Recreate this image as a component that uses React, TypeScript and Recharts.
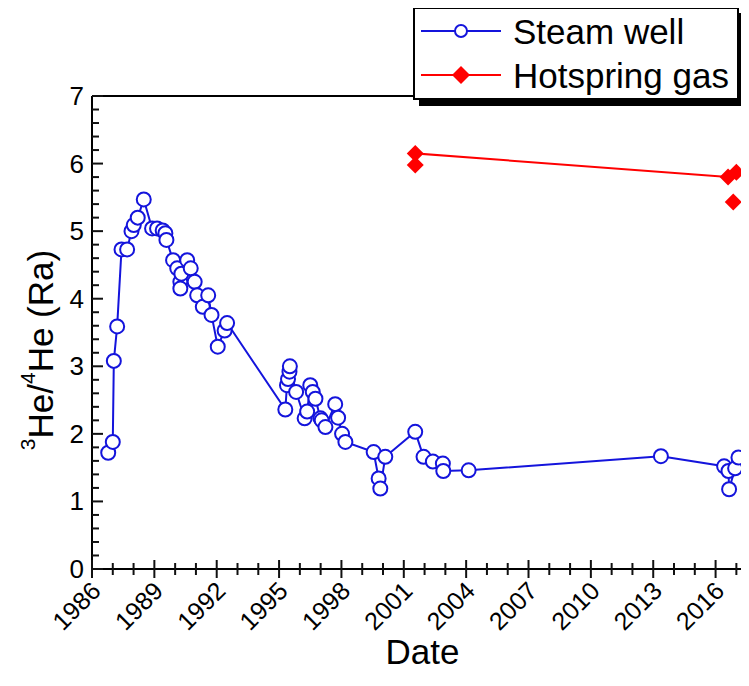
import React from "react"
import { Legend, Scatter, ScatterChart, XAxis, YAxis } from "recharts"

// Steam well samples (decimal year, 3He/4He in Ra)
const steamT = [
  1986.78, 1987.0, 1987.05, 1987.21, 1987.42, 1987.69, 1987.9, 1988.01, 1988.2, 1988.49,
  1988.89, 1989.13, 1989.4, 1989.53, 1989.58, 1989.9, 1990.1, 1990.25, 1990.25, 1990.3,
  1990.58, 1990.75, 1990.94, 1991.06, 1991.33, 1991.59, 1991.75, 1992.05, 1992.38, 1992.5,
  1995.3, 1995.38, 1995.43, 1995.5, 1995.52, 1995.82, 1996.23, 1996.35, 1996.5, 1996.62,
  1996.75, 1996.99, 1997.05, 1997.23, 1997.7, 1997.84, 1998.03, 1998.19, 1999.55, 1999.79,
  1999.87, 2000.11, 2001.55, 2001.95, 2002.4, 2002.88, 2002.9, 2004.12, 2013.37, 2016.41,
  2016.62, 2016.65, 2016.94, 2017.1,
]
const steamV = [
  1.72, 1.88, 3.08, 3.59, 4.73, 4.73, 5.0, 5.09, 5.2, 5.47,
  5.04, 5.04, 5.01, 4.97, 4.87, 4.57, 4.45, 4.25, 4.15, 4.37,
  4.57, 4.45, 4.25, 4.05, 3.88, 4.05, 3.76, 3.29, 3.53, 3.64,
  2.36, 2.72, 2.81, 2.92, 3.0, 2.62, 2.23, 2.33, 2.72, 2.62,
  2.52, 2.23, 2.2, 2.1, 2.44, 2.24, 2.0, 1.88, 1.73, 1.34,
  1.19, 1.66, 2.03, 1.66, 1.59, 1.56, 1.45, 1.46, 1.67, 1.52,
  1.45, 1.18, 1.49, 1.65,
]

// Hotspring gas samples
const gasT = [2001.55, 2001.55, 2016.6, 2017.0]
const gasV = [5.98, 6.15, 5.8, 5.87]
const gasExtraT = [2016.85]
const gasExtraV = [5.43]

const years = Array.from({ length: 32 }, (_, i) => 1986 + i)
const yTicks = Array.from({ length: 36 }, (_, i) => i / 5)

const steam = steamT.map((t, i) => ({ t, v: steamV[i] }))
const gas = gasT.map((t, i) => ({ t, v: gasV[i] }))
const gasExtra = gasExtraT.map((t, i) => ({ t, v: gasExtraV[i] }))

const BLUE = "#1414dc"
const RED = "#ff0000"
const INK = "#111"
const FONT = "'Liberation Sans', Arial, sans-serif"

const isMajorYear = (y: number) => (y - 1986) % 3 === 0
const isInt = (v: number) => Math.abs(v - Math.round(v)) < 1e-6

const Circle = (props: any) => {
  const { cx, cy } = props
  return <circle cx={cx} cy={cy} r={7} fill="#fff" stroke={BLUE} strokeWidth={2} />
}

const Diamond = (props: any) => {
  const { cx, cy } = props
  const s = 8.5
  return <path d={`M${cx},${cy - s}L${cx + s},${cy}L${cx},${cy + s}L${cx - s},${cy}Z`} fill={RED} />
}

const bottomTick = (props: any) => {
  const x = Number(props.x)
  const y = Number(props.y)
  const value = props.payload.value
  const major = isMajorYear(value)
  const len = major ? 9 : 6
  return (
    <g>
      <line x1={x} y1={y - len} x2={x} y2={y + len} stroke={INK} strokeWidth={2} />
      {major && (
        <text
          x={x + 4}
          y={y + 17}
          transform={`rotate(-45 ${x + 4} ${y + 17})`}
          textAnchor="end"
          dominantBaseline="central"
          fontSize={25}
          fontFamily={FONT}
          fill="#000"
        >
          {value}
        </text>
      )}
    </g>
  )
}

const topTick = (props: any) => {
  const x = Number(props.x)
  const y = Number(props.y)
  const len = isMajorYear(props.payload.value) ? 10 : 6
  return <line x1={x} y1={y} x2={x} y2={y + len} stroke={INK} strokeWidth={2} />
}

const leftTick = (props: any) => {
  const x = Number(props.x)
  const y = Number(props.y)
  const value = props.payload.value
  const major = isInt(value)
  return (
    <g>
      <line x1={x} y1={y} x2={x + (major ? 11 : 7)} y2={y} stroke={INK} strokeWidth={2} />
      {major && (
        <text
          x={x - 8}
          y={y}
          textAnchor="end"
          dominantBaseline="central"
          fontSize={26}
          fontFamily={FONT}
          fill="#000"
        >
          {Math.round(value)}
        </text>
      )}
    </g>
  )
}

const rightTick = (props: any) => {
  const x = Number(props.x)
  const y = Number(props.y)
  const len = isInt(props.payload.value) ? 11 : 7
  return <line x1={x} y1={y} x2={x - len} y2={y} stroke={INK} strokeWidth={2} />
}

const YLabel = () => (
  <text
    x={40}
    y={350}
    transform="rotate(-90 40 350)"
    textAnchor="middle"
    dominantBaseline="central"
    fontSize={35}
    fontFamily={FONT}
    fill="#000"
  >
    <tspan fontSize={21} dy={-13}>3</tspan>
    <tspan dy={13}>He/</tspan>
    <tspan fontSize={21} dy={-13}>4</tspan>
    <tspan dy={13}>He (Ra)</tspan>
  </text>
)

const LegendBox = () => {
  const rows = [
    { name: "Steam well", color: BLUE, marker: "circle" },
    { name: "Hotspring gas", color: RED, marker: "diamond" },
  ]
  return (
    <div
      style={{
        background: "#fff",
        border: "2px solid #000",
        boxShadow: "6px 6px 0 #000",
        width: 322,
        height: 89,
        fontFamily: FONT,
        fontSize: 35,
        color: "#000",
      }}
    >
      {rows.map((r) => (
        <div key={r.name} style={{ display: "flex", alignItems: "center", height: 44 }}>
          <svg width={92} height={30} style={{ marginLeft: 4 }}>
            <line x1={2} x2={82} y1={15} y2={15} stroke={r.color} strokeWidth={2} />
            {r.marker === "circle" ? (
              <circle cx={42} cy={15} r={6} fill="#fff" stroke={r.color} strokeWidth={2} />
            ) : (
              <path d="M42,6L51,15L42,24L33,15Z" fill={r.color} />
            )}
          </svg>
          <span style={{ marginLeft: 2, lineHeight: 1 }}>{r.name}</span>
        </div>
      ))}
    </div>
  )
}

export default function App() {
  return (
    <div style={{ margin: -8, width: 749, height: 686, overflow: "hidden", position: "relative", background: "#fff" }}>
      <ScatterChart width={770} height={686} margin={{ top: 86, right: 7, bottom: 87, left: 32 }}>
        <XAxis
          dataKey="t"
          type="number"
          domain={[1986, 2017.8]}
          ticks={years}
          interval={0}
          tickSize={0}
          tickMargin={0}
          tickLine={false}
          tick={bottomTick}
          axisLine={{ stroke: "#000", strokeWidth: 2 }}
          height={30}
          label={{ value: "Date", position: "bottom", offset: 40, fontSize: 35, fontFamily: FONT, fill: "#000" }}
        />
        <XAxis
          xAxisId="top"
          orientation="top"
          type="number"
          domain={[1986, 2017.8]}
          ticks={years}
          interval={0}
          tickSize={0}
          tickMargin={0}
          tickLine={false}
          tick={topTick}
          axisLine={{ stroke: "#000", strokeWidth: 2 }}
          height={10}
        />
        <YAxis
          dataKey="v"
          type="number"
          domain={[0, 7]}
          ticks={yTicks}
          interval={0}
          tickSize={0}
          tickMargin={0}
          tickLine={false}
          tick={leftTick}
          axisLine={{ stroke: "#000", strokeWidth: 2 }}
          width={60}
          label={<YLabel />}
        />
        <YAxis
          yAxisId="right"
          orientation="right"
          type="number"
          domain={[0, 7]}
          ticks={yTicks}
          interval={0}
          tickSize={0}
          tickMargin={0}
          tickLine={false}
          tick={rightTick}
          axisLine={{ stroke: "#000", strokeWidth: 2 }}
          width={10}
        />
        <Scatter
          name="Steam well"
          data={steam}
          line={{ stroke: BLUE, strokeWidth: 2 }}
          lineType="joint"
          shape={<Circle />}
          isAnimationActive={false}
        />
        <Scatter
          name="Hotspring gas"
          data={gas}
          line={{ stroke: RED, strokeWidth: 2 }}
          lineType="joint"
          shape={<Diamond />}
          isAnimationActive={false}
        />
        <Scatter name="Hotspring gas extra" data={gasExtra} shape={<Diamond />} isAnimationActive={false} legendType="none" />
        <Legend
          layout="horizontal"
          verticalAlign="middle"
          align="center"
          content={<LegendBox />}
          wrapperStyle={{ top: 7, left: 413, width: "auto", height: "auto" }}
        />
      </ScatterChart>
    </div>
  )
}
